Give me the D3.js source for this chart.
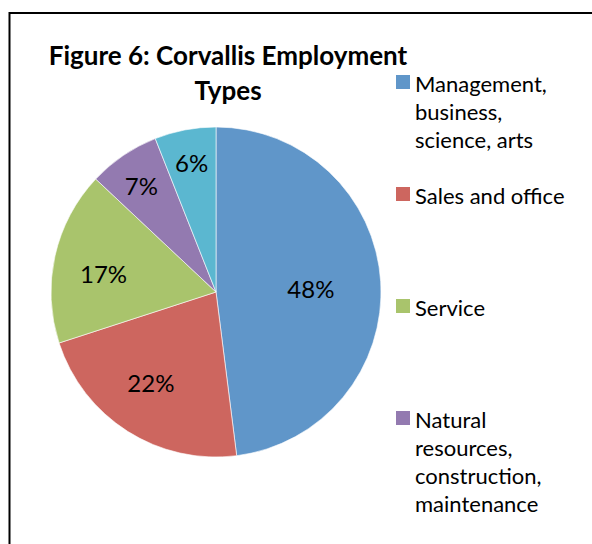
<!DOCTYPE html>
<html>
<head>
<meta charset="utf-8">
<script src="https://cdn.jsdelivr.net/npm/d3@7"></script>
<style>
  html, body { margin: 0; padding: 0; background: #fff; }
  svg { display: block; font-family: Lato, "Open Sans", sans-serif; }
</style>
</head>
<body>
<div id="chart"></div>
<script>
// chart data
var categories = [
    "Management, business, science, arts",
    "Sales and office",
    "Service",
    "Natural resources, construction, maintenance",
    "Production, transportation, material moving"
];
var shares = [48, 22, 17, 7, 6];
var legendLines = [
    ["Management,", "business,", "science, arts"],
    ["Sales and office"],
    ["Service"],
    ["Natural", "resources,", "construction,", "maintenance"]
];
var colors = ["#6096c9", "#cd665f", "#a9c46c", "#937ab0", "#5bb7d0"];
var titleLines = ["Figure 6: Corvallis Employment", "Types"];

(function () {

    var width = 592,
        height = 544,
        cx = 216,
        cy = 292,
        radius = 165;

    // where Excel dropped each label: fraction of the radius, and a small turn in degrees
    var labelRadius = [0.575, 0.68, 0.69, 0.78, 0.79],
        labelNudge = [2.4, 3.1, -3.8, -1.2, 0];

    var svg = d3.select("#chart").append("svg")
        .attr("width", width)
        .attr("height", height);

    svg.append("rect")
        .attr("width", width)
        .attr("height", height)
        .style("fill", "#fff");

    // the chart frame, cut off at right and bottom
    svg.append("rect")
        .attr("x", 9.5)
        .attr("y", 13)
        .attr("width", 700)
        .attr("height", 700)
        .style("fill", "none")
        .style("stroke", "#000")
        .style("stroke-width", 2);

    var color = d3.scaleOrdinal().domain(categories).range(colors);

    var pie = d3.pie().sort(null).value(function (d) { return d.value; });
    var arcs = pie(categories.map(function (c, i) {
        return {name: c, value: shares[i], index: i};
    }));

    var arc = d3.arc().innerRadius(0).outerRadius(radius);

    var g = svg.append("g").attr("transform", "translate(" + cx + "," + cy + ")");

    g.selectAll("path")
        .data(arcs)
        .enter()
        .append("path")
        .attr("d", arc)
        .style("fill", function (d) { return color(d.data.name); })
        .style("stroke", "#fff")
        .style("stroke-width", 0.6);

    g.selectAll("text")
        .data(arcs)
        .enter()
        .append("text")
        .attr("transform", function (d) {
            var i = d.data.index,
                r = radius * labelRadius[i],
                a = (d.startAngle + d.endAngle) / 2 + labelNudge[i] * Math.PI / 180;
            return "translate(" + (r * Math.sin(a)) + "," + (-r * Math.cos(a)) + ")";
        })
        .attr("dy", "0.35em")
        .style("text-anchor", "middle")
        .style("font-size", "24px")
        .style("fill", "#000")
        .text(function (d) { return d.data.value + "%"; });

    // title
    svg.append("g").selectAll("text")
        .data(titleLines)
        .enter()
        .append("text")
        .attr("x", 228)
        .attr("y", function (d, i) { return 65 + i * 35; })
        .style("text-anchor", "middle")
        .style("font-size", "26px")
        .style("font-weight", "bold")
        .style("fill", "#000")
        .text(function (d) { return d; });

    // legend, Excel only had room for four entries
    var legend = svg.append("g")
        .selectAll("g")
        .data(legendLines)
        .enter()
        .append("g")
        .attr("transform", function (d, i) { return "translate(396," + (75 + i * 112) + ")"; });

    legend.append("rect")
        .attr("width", 14)
        .attr("height", 14)
        .style("fill", function (d, i) { return color(categories[i]); });

    legend.append("text")
        .style("font-size", "22px")
        .style("fill", "#000")
        .selectAll("tspan")
        .data(function (d) { return d; })
        .enter()
        .append("tspan")
        .attr("x", 19)
        .attr("y", function (d, i) { return 17 + i * 28; })
        .text(function (d) { return d; });
}());
</script>
</body>
</html>
